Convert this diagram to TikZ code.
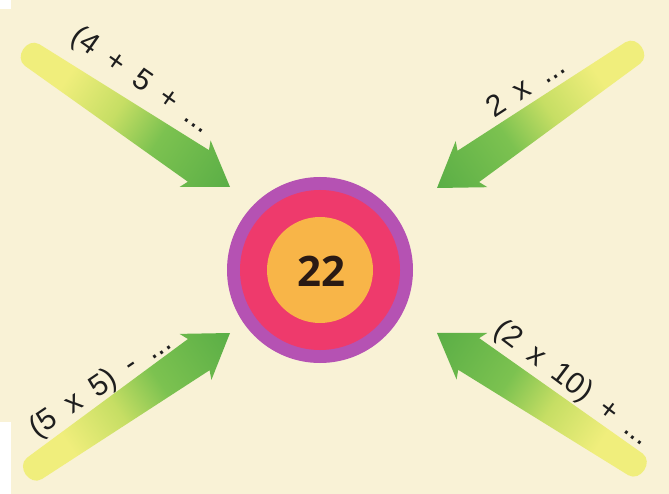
\documentclass[tikz,border=0pt]{standalone}
\usepackage{fontspec}
\setmainfont{Liberation Sans}
\newfontfamily\numfont{Open Sans}
\definecolor{bgcream}{HTML}{F9F2D6}
\definecolor{tgtpurple}{HTML}{B552B3}
\definecolor{tgtred}{HTML}{EE3A6C}
\definecolor{tgtorange}{HTML}{F8B548}
\definecolor{arrY}{HTML}{F0EE7C}
\definecolor{arrYG}{HTML}{C6DE64}
\definecolor{arrG}{HTML}{7CC250}
\definecolor{arrGD}{HTML}{5AAE46}
\definecolor{inkc}{HTML}{1E1E1E}
\definecolor{numink}{HTML}{2A1A14}
\pgfdeclarehorizontalshading{arrowshade}{100bp}{color(0bp)=(arrY); color(25bp)=(arrY); color(36bp)=(arrY); color(48bp)=(arrYG); color(58bp)=(arrG); color(75bp)=(arrGD); color(100bp)=(arrGD)}
\newlength\lblspace
\setlength\lblspace{15pt}
\tikzset{
  brush/.style={shading=arrowshade, draw=none},
  fatarrow/.pic={
    \path[brush] (-38,-19) -- (-238,-13) .. controls (-252,-12) and (-252,12) .. (-238,13)
      -- (-38,19) -- (-42,28) -- (0,0) -- (-42,-28) -- cycle;
  },
  lbl/.style={text=inkc, inner sep=0pt, font=\fontsize{30}{30}\selectfont,
    execute at begin node={\spaceskip=\lblspace\relax}},
  ring/.style={circle, inner sep=0pt, draw=none},
}
\begin{document}
\begin{tikzpicture}[x=1pt, y=-1pt]
  \fill[bgcream] (0,0) rectangle (669,494);
  \useasboundingbox (0,0) rectangle (669,494);
  \fill[white] (0,0) rectangle (11,9);
  \fill[white] (0,422) rectangle (11,494);

  % arrow tips
  \coordinate (tlTip) at (230,187);
  \coordinate (trTip) at (437,188);
  \coordinate (blTip) at (230,333);
  \coordinate (brTip) at (437,333);

  \begin{scope}[transform canvas={shift={(tlTip)}, rotate=-33.7}]
    \pic {fatarrow};
  \end{scope}
  \begin{scope}[transform canvas={shift={(trTip)}, rotate=214.6}]
    \pic {fatarrow};
  \end{scope}
  \begin{scope}[transform canvas={shift={(blTip)}, rotate=34.7}]
    \pic {fatarrow};
  \end{scope}
  \begin{scope}[transform canvas={shift={(brTip)}, rotate=146.5}]
    \pic {fatarrow};
  \end{scope}

  % target
  \node[ring, fill=tgtpurple, minimum size=186pt] (outer) at (320,270) {};
  \node[ring, fill=tgtred, minimum size=160pt] (middle) at (outer.center) {};
  \node[ring, fill=tgtorange, minimum size=106pt] (inner) at (outer.center) {};
  \node[text=numink, font=\numfont\bfseries\fontsize{42}{42}\selectfont, inner sep=0pt] (num) at (321,271) {22};

  % labels
  \node[lbl, rotate=-35] (tlLbl) at (141,81) {(4 + 5 + ...};
  \node[lbl, rotate=33] (trLbl) at (525,86) {2 x ...};
  \node[lbl, rotate=34] (blLbl) at (101,386) {(5 x 5) - ...};
  \node[lbl, rotate=-37] (brLbl) at (572,384) {(2 x 10) + ...};
\end{tikzpicture}
\end{document}
